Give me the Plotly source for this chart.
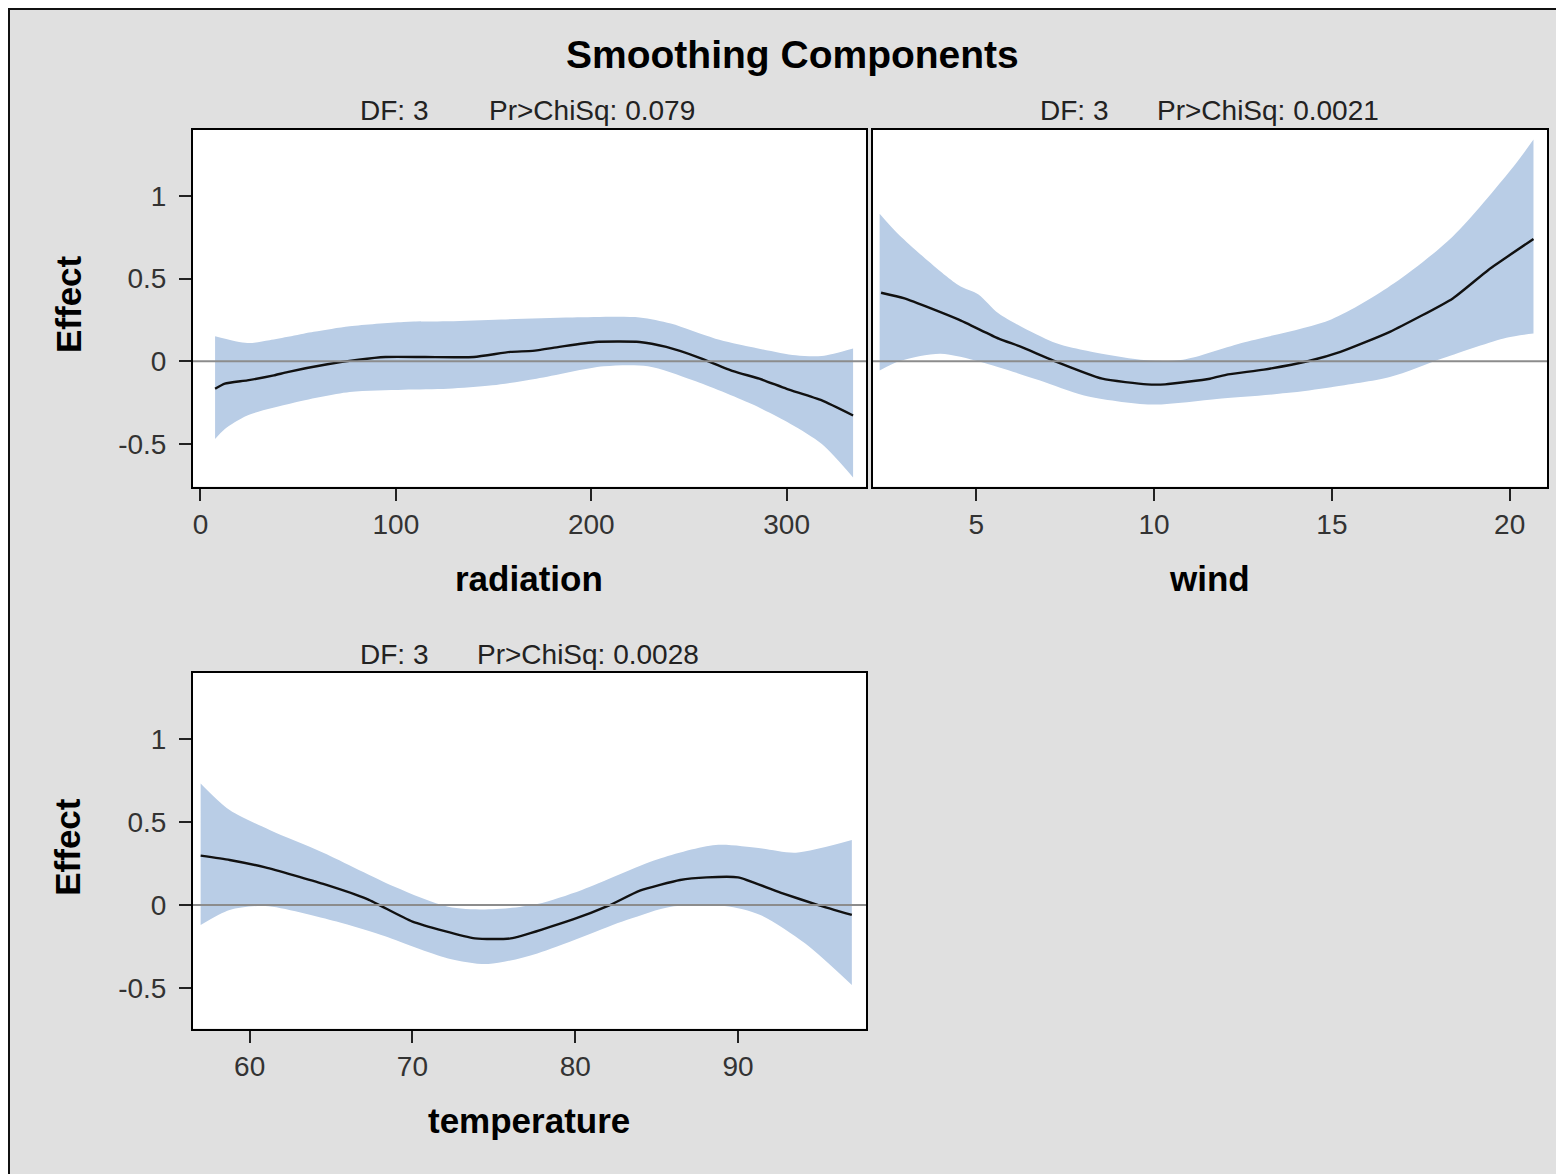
import plotly.graph_objects as go

# ---------------- data ----------------
title_text = "Smoothing Components"
panel_vars = ["radiation", "wind", "temperature"]
panel_df = ["DF: 3", "DF: 3", "DF: 3"]
panel_p = ["Pr>ChiSq: 0.079", "Pr>ChiSq: 0.0021", "Pr>ChiSq: 0.0028"]

# radiation
rad_x = [7.5, 12.5, 24, 37.6, 44.5, 65, 81, 94.7, 115, 140, 158.6, 170, 183.6, 202, 224.7, 238.4, 254.4, 272.6, 286, 300, 318, 334]
rad_fit = [-0.166, -0.135, -0.115, -0.085, -0.065, -0.018, 0.01, 0.026, 0.026, 0.026, 0.057, 0.063, 0.087, 0.117, 0.117, 0.087, 0.026, -0.059, -0.105, -0.166, -0.236, -0.327]
rad_up_x = [7.5, 24, 35.4, 58, 76.4, 104, 126.6, 154, 190.5, 224.7, 240.7, 263.5, 281.8, 304.6, 318, 334]
rad_up = [0.152, 0.111, 0.127, 0.178, 0.212, 0.238, 0.242, 0.253, 0.265, 0.265, 0.228, 0.137, 0.087, 0.036, 0.032, 0.077]
rad_lo_x = [7.5, 12.5, 24, 46.8, 76.4, 104, 126.6, 149.4, 172, 206.5, 229, 252, 281.8, 302, 318, 334]
rad_lo = [-0.469, -0.408, -0.327, -0.253, -0.186, -0.172, -0.166, -0.145, -0.105, -0.03, -0.03, -0.115, -0.257, -0.378, -0.499, -0.701]

# wind
wind_x = [2.32, 2.98, 4.49, 5.63, 6.26, 7.15, 8.54, 9.8, 10.31, 11.57, 12.08, 13.09, 14.35, 15.24, 16.63, 18.4, 19.4, 20.67]
wind_fit = [0.414, 0.38, 0.253, 0.137, 0.087, 0.006, -0.105, -0.139, -0.139, -0.105, -0.079, -0.05, 0.002, 0.057, 0.178, 0.38, 0.552, 0.739]
wind_up_x = [2.28, 2.85, 4.49, 5.06, 5.63, 7.15, 8.03, 9.8, 10.81, 12.46, 14.98, 16.75, 18.4, 20.04, 20.67]
wind_up = [0.891, 0.758, 0.461, 0.404, 0.289, 0.117, 0.067, 0.006, 0.010, 0.111, 0.253, 0.471, 0.754, 1.158, 1.339]
wind_lo_x = [2.28, 2.85, 3.99, 5.13, 6.77, 8.03, 9.93, 11.83, 13.72, 14.98, 16.63, 18.14, 19.91, 20.67]
wind_lo = [-0.055, 0.002, 0.046, -0.004, -0.115, -0.206, -0.261, -0.226, -0.192, -0.156, -0.095, 0.02, 0.143, 0.168]

# temperature
temp_x = [56.99, 58.77, 60.96, 64.52, 67.26, 70.0, 73.84, 76.03, 79.86, 82.05, 83.97, 86.44, 88.08, 90.0, 92.74, 94.93, 96.99]
temp_fit = [0.298, 0.272, 0.227, 0.127, 0.034, -0.1, -0.201, -0.201, -0.087, -0.004, 0.087, 0.151, 0.167, 0.167, 0.07, 0.0, -0.06]
temp_up_x = [56.99, 58.77, 61.23, 64.52, 68.9, 72.19, 74.93, 77.67, 80.41, 85.07, 88.63, 91.37, 93.56, 96.99]
temp_up = [0.734, 0.573, 0.453, 0.316, 0.111, -0.01, -0.026, 0.006, 0.091, 0.276, 0.362, 0.342, 0.316, 0.392]
temp_lo_x = [56.99, 58.77, 60.96, 65.34, 68.08, 72.19, 74.66, 77.67, 83.15, 85.89, 89.18, 91.37, 94.11, 96.99]
temp_lo = [-0.121, -0.03, -0.006, -0.1, -0.181, -0.322, -0.356, -0.292, -0.091, -0.01, -0.006, -0.06, -0.231, -0.483]

x_ticks = [[0, 100, 200, 300], [5, 10, 15, 20], [60, 70, 80, 90]]
y_ticks = [-0.5, 0, 0.5, 1]
y_tick_text = ["-0.5", "0", "0.5", "1"]

# ---------------- layout helpers ----------------
OFF = 8                      # default page margin around the plot div
W, H = 1564 - OFF, 1174 - OFF
def px(v):
    return (v - OFF) / W
def py(v):
    return 1 - (v - OFF) / H

FONT = "Liberation Sans, Arial, sans-serif"
BAND = "#B9CDE6"
BG = "#E0E0E0"

panels = [
    dict(xs=rad_x, fit=rad_fit, ux=rad_up_x, up=rad_up, lx=rad_lo_x, lo=rad_lo,
         dom_x=(193, 866), dom_y=(129.5, 486.5), xr=(-3.8, 340.6), yr=(-0.756, 1.40)),
    dict(xs=wind_x, fit=wind_fit, ux=wind_up_x, up=wind_up, lx=wind_lo_x, lo=wind_lo,
         dom_x=(873, 1547), dom_y=(129.5, 486.5), xr=(2.093, 21.05), yr=(-0.756, 1.40)),
    dict(xs=temp_x, fit=temp_fit, ux=temp_up_x, up=temp_up, lx=temp_lo_x, lo=temp_lo,
         dom_x=(193, 866), dom_y=(673, 1028.5), xr=(56.52, 97.86), yr=(-0.745, 1.40)),
]

fig = go.Figure()
shapes = []
annotations = []

for i, p in enumerate(panels):
    n = "" if i == 0 else str(i + 1)
    xa, ya = "x" + n, "y" + n
    # confidence band: lower limit, then upper limit filled to it
    fig.add_trace(go.Scatter(x=p["lx"], y=p["lo"], mode="lines",
                             line=dict(width=0, color=BAND, shape="spline", smoothing=0.8),
                             xaxis=xa, yaxis=ya, showlegend=False, hoverinfo="skip"))
    fig.add_trace(go.Scatter(x=p["ux"], y=p["up"], mode="lines", fill="tonexty", fillcolor=BAND,
                             line=dict(width=0, color=BAND, shape="spline", smoothing=0.8),
                             xaxis=xa, yaxis=ya, showlegend=False, hoverinfo="skip"))
    fig.add_trace(go.Scatter(x=p["xs"], y=p["fit"], mode="lines",
                             line=dict(color="#111111", width=2.4, shape="spline", smoothing=0.5),
                             xaxis=xa, yaxis=ya, showlegend=False))
    common = dict(showline=True, linecolor="black", linewidth=2, mirror=True,
                  showgrid=False, zeroline=False, ticks="outside", ticklen=12,
                  tickwidth=2, tickcolor="#222222",
                  tickfont=dict(family=FONT, size=28, color="#333333"))
    fig.layout["xaxis" + n] = dict(domain=[px(p["dom_x"][0]), px(p["dom_x"][1])],
                                   range=list(p["xr"]), anchor=ya,
                                   tickvals=x_ticks[i], **common)
    yax = dict(domain=[py(p["dom_y"][1]), py(p["dom_y"][0])], range=list(p["yr"]),
               anchor=xa, tickvals=y_ticks, ticktext=y_tick_text,
               ticklabelstandoff=7, **common)
    if i == 1:
        yax["showticklabels"] = False
        yax["ticks"] = ""
    fig.layout["yaxis" + n] = yax
    # zero reference line
    shapes.append(dict(type="line", xref=xa + " domain", yref=ya, x0=0, x1=1, y0=0, y1=0,
                       line=dict(color="#8C8C8C", width=2), layer="above"))
    # DF / p-value header
    cx = (p["dom_x"][0] + p["dom_x"][1]) / 2
    top = p["dom_y"][0]
    annotations.append(dict(text=panel_df[i], x=px(cx - 136), y=py(top - 19), xref="paper", yref="paper",
                            showarrow=False, xanchor="center", yanchor="middle",
                            font=dict(family=FONT, size=28, color="#222222")))
    annotations.append(dict(text=panel_p[i], x=px(cx + 62 if i == 0 else cx + 58), y=py(top - 19),
                            xref="paper", yref="paper",
                            showarrow=False, xanchor="center", yanchor="middle",
                            font=dict(family=FONT, size=28, color="#222222")))
    # x axis title
    annotations.append(dict(text="<b>" + panel_vars[i] + "</b>", x=px(cx - 1), y=py(p["dom_y"][1] + 92),
                            xref="paper", yref="paper", showarrow=False,
                            xanchor="center", yanchor="middle",
                            font=dict(family=FONT, size=35, color="black")))
    # y axis title
    if i != 1:
        cy = (p["dom_y"][0] + p["dom_y"][1]) / 2
        annotations.append(dict(text="<b>Effect</b>", x=px(68), y=py(cy - 4), xref="paper", yref="paper",
                                showarrow=False, textangle=-90, xanchor="center", yanchor="middle",
                                font=dict(family=FONT, size=35, color="black")))

# title
annotations.append(dict(text="<b>" + title_text + "</b>", x=px(793), y=py(55), xref="paper", yref="paper",
                        showarrow=False, xanchor="center", yanchor="middle",
                        font=dict(family=FONT, size=39, color="black")))

# outer frame (top-left visible)
shapes.append(dict(type="rect", xref="paper", yref="paper", x0=0, x1=1.02, y0=-0.02, y1=1,
                   line=dict(color="#111111", width=4), layer="above"))

fig.update_layout(width=W, height=H, margin=dict(l=0, r=0, t=0, b=0),
                  paper_bgcolor=BG, plot_bgcolor="white",
                  shapes=shapes, annotations=annotations, showlegend=False)

fig.write_html("out.html")
